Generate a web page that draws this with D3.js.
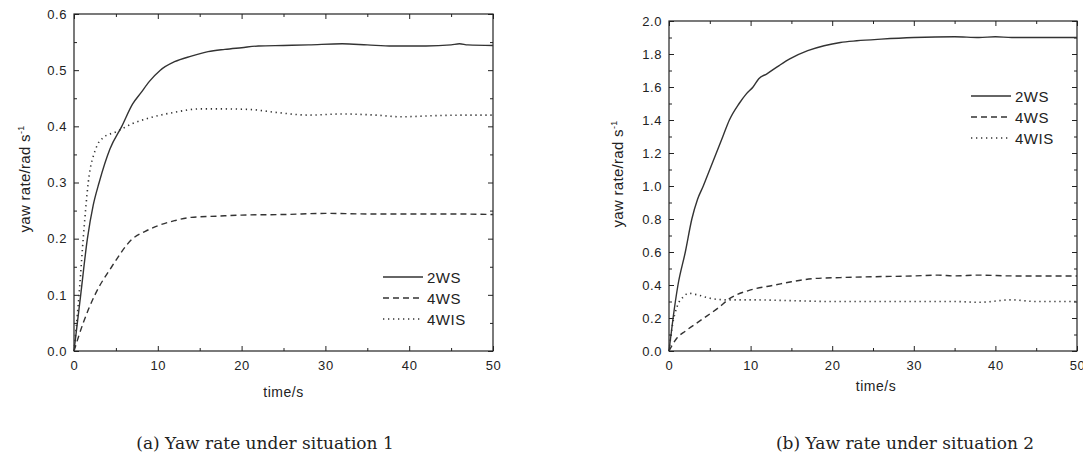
<!DOCTYPE html>
<html>
<head>
<meta charset="utf-8">
<script src="https://cdn.jsdelivr.net/npm/d3@7"></script>
<style>
  body { margin: 0; background: #fff; }
  svg text { font-family: "Liberation Sans", Arial, sans-serif; fill: #222; }
  .caption { font-family: "DejaVu Serif", "Liberation Serif", serif; }
</style>
</head>
<body>
<svg id="chart" width="1083" height="461"></svg>
<script>
// situation 1 (t in s, yaw rate in rad/s)
const s1_2ws = [[0,0],[0.4,0.05],[0.8,0.1],[1.6,0.2],[2.3,0.26],[3,0.3],[4.3,0.36],[5.7,0.4],[7,0.44],[8,0.46],[9,0.48],[10.3,0.5],[12,0.515],[14,0.525],[16,0.533],[18,0.537],[20,0.54],[22,0.543],[25,0.544],[28,0.545],[32,0.547],[35,0.545],[38,0.543],[42,0.543],[45,0.545],[46,0.547],[47,0.545],[50,0.544]];
const s1_4ws = [[0,0],[1.1,0.05],[2.5,0.1],[4.5,0.15],[7,0.2],[8.5,0.213],[10,0.223],[12,0.232],[14,0.238],[17,0.24],[20,0.242],[25,0.243],[30,0.245],[35,0.244],[40,0.244],[45,0.244],[50,0.243]];
const s1_4wis = [[0,0],[0.6,0.1],[1.1,0.2],[1.7,0.3],[2.6,0.36],[3.5,0.38],[5,0.39],[7,0.405],[9,0.415],[12,0.425],[15,0.431],[18,0.431],[21,0.43],[24,0.425],[28,0.42],[32,0.422],[36,0.42],[39,0.417],[43,0.419],[47,0.42],[50,0.42]];

// situation 2
const s2_2ws = [[0,0],[0.5,0.2],[1.1,0.4],[2,0.6],[2.8,0.8],[3.5,0.92],[4.2,1.0],[5,1.1],[5.8,1.2],[6.6,1.3],[7.4,1.4],[8.6,1.5],[9.5,1.56],[10.3,1.6],[11,1.65],[12,1.68],[13.5,1.73],[14.8,1.77],[17,1.82],[19,1.85],[21,1.87],[23,1.88],[26,1.89],[30,1.9],[35,1.905],[38,1.9],[40,1.905],[42,1.9],[50,1.9]];
const s2_4ws = [[0,0],[1,0.08],[2,0.12],[4,0.19],[6,0.26],[7.5,0.32],[10,0.37],[13,0.4],[15,0.42],[18,0.44],[21,0.445],[25,0.45],[30,0.455],[33,0.46],[35,0.455],[38,0.46],[42,0.455],[46,0.455],[50,0.455]];
const s2_4wis = [[0,0],[0.4,0.15],[1,0.27],[1.8,0.33],[2.4,0.35],[3.5,0.34],[5,0.32],[7,0.31],[10,0.31],[15,0.305],[20,0.3],[25,0.3],[30,0.3],[35,0.3],[38,0.295],[42,0.31],[45,0.3],[50,0.3]];

const seriesNames = ["2WS", "4WS", "4WIS"];
const dashes = [null, "6,4", "1.3,3.7"];
const xTicks = [0, 10, 20, 30, 40, 50];
const yTicks1 = [0, 0.1, 0.2, 0.3, 0.4, 0.5, 0.6];
const yTicks2 = [0, 0.2, 0.4, 0.6, 0.8, 1.0, 1.2, 1.4, 1.6, 1.8, 2.0];
const captions = ["(a) Yaw rate under situation 1", "(b) Yaw rate under situation 2"];

const svg = d3.select("#chart");

function drawPanel(opt) {
  const x = d3.scaleLinear().domain([0, 50]).range([opt.left, opt.right]);
  const y = d3.scaleLinear().domain([0, opt.yMax]).range([opt.bottom, opt.top]);
  const g = svg.append("g");

  // inward ticks on all four sides
  const addAxis = (axis, tr, labels) => {
    const a = g.append("g").attr("transform", tr).call(axis);
    a.select(".domain").remove();
    a.selectAll("line").attr("stroke", "#222").attr("stroke-width", 1);
    if (!labels) a.selectAll("text").remove();
    else a.selectAll("text").attr("font-size", 13).attr("letter-spacing", 0.6);
    return a;
  };
  const minorX = d3.range(5, 50, 10);
  const minorY = d3.range(opt.yStep / 2, opt.yMax, opt.yStep);

  addAxis(d3.axisBottom(x).tickValues(xTicks).tickSize(-5).tickPadding(10).tickFormat(d3.format("d")),
    `translate(0,${opt.bottom})`, true);
  addAxis(d3.axisBottom(x).tickValues(minorX).tickSize(-3).tickFormat(""), `translate(0,${opt.bottom})`, false);
  addAxis(d3.axisTop(x).tickValues(xTicks).tickSize(-5), `translate(0,${opt.top})`, false);
  addAxis(d3.axisTop(x).tickValues(minorX).tickSize(-3), `translate(0,${opt.top})`, false);
  addAxis(d3.axisLeft(y).tickValues(opt.yTicks).tickSize(-5).tickPadding(7).tickFormat(d3.format(".1f")),
    `translate(${opt.left},0)`, true);
  addAxis(d3.axisLeft(y).tickValues(minorY).tickSize(-3).tickFormat(""), `translate(${opt.left},0)`, false);
  addAxis(d3.axisRight(y).tickValues(opt.yTicks).tickSize(-5), `translate(${opt.right},0)`, false);
  addAxis(d3.axisRight(y).tickValues(minorY).tickSize(-3), `translate(${opt.right},0)`, false);

  g.append("rect")
    .attr("x", opt.left).attr("y", opt.top)
    .attr("width", opt.right - opt.left).attr("height", opt.bottom - opt.top)
    .attr("fill", "none").attr("stroke", "#222").attr("stroke-width", 1.2);

  const line = d3.line().x(d => x(d[0])).y(d => y(d[1])).curve(d3.curveMonotoneX);
  opt.series.forEach((s, i) => {
    g.append("path")
      .datum(s)
      .attr("d", line)
      .attr("fill", "none")
      .attr("stroke", "#333")
      .attr("stroke-width", i === 2 ? 1.6 : 1.4)
      .attr("stroke-dasharray", dashes[i]);
  });

  // legend
  seriesNames.forEach((n, i) => {
    const ly = opt.legendY + i * 21;
    g.append("line")
      .attr("x1", opt.legendX).attr("x2", opt.legendX + 40)
      .attr("y1", ly).attr("y2", ly)
      .attr("stroke", "#333").attr("stroke-width", i === 2 ? 1.6 : 1.4)
      .attr("stroke-dasharray", dashes[i]);
    g.append("text")
      .attr("x", opt.legendX + 44).attr("y", ly + 5.5)
      .attr("font-size", 15).attr("letter-spacing", 0.5).text(n);
  });

  // axis titles
  g.append("text")
    .attr("x", (opt.left + opt.right) / 2 + opt.xTitleDx).attr("y", opt.xTitleY)
    .attr("text-anchor", "middle").attr("font-size", 14).attr("letter-spacing", 0.5).text("time/s");

  const yt = g.append("text")
    .attr("transform", `translate(${opt.yTitleX},${opt.yTitleY}) rotate(-90)`)
    .attr("text-anchor", "middle").attr("font-size", 15).attr("letter-spacing", 0.3);
  yt.append("tspan").text("yaw rate/rad s");
  yt.append("tspan").attr("dy", -6).attr("font-size", 9).text("-1");

  svg.append("text")
    .attr("class", "caption")
    .attr("x", opt.captionX).attr("y", 449)
    .attr("text-anchor", "middle").attr("font-size", 17)
    .text(opt.caption);
}

drawPanel({
  left: 74, right: 493, top: 14, bottom: 351, yMax: 0.6, yStep: 0.1, yTicks: yTicks1,
  series: [s1_2ws, s1_4ws, s1_4wis], legendX: 383, legendY: 277,
  xTitleY: 397, xTitleDx: 0, yTitleX: 30, yTitleY: 179, captionX: 265, caption: captions[0]
});
drawPanel({
  left: 669, right: 1077, top: 21, bottom: 351, yMax: 2.0, yStep: 0.2, yTicks: yTicks2,
  series: [s2_2ws, s2_4ws, s2_4wis], legendX: 971, legendY: 96,
  xTitleY: 391, xTitleDx: 3, yTitleX: 623, yTitleY: 174, captionX: 905, caption: captions[1]
});
</script>
</body>
</html>
